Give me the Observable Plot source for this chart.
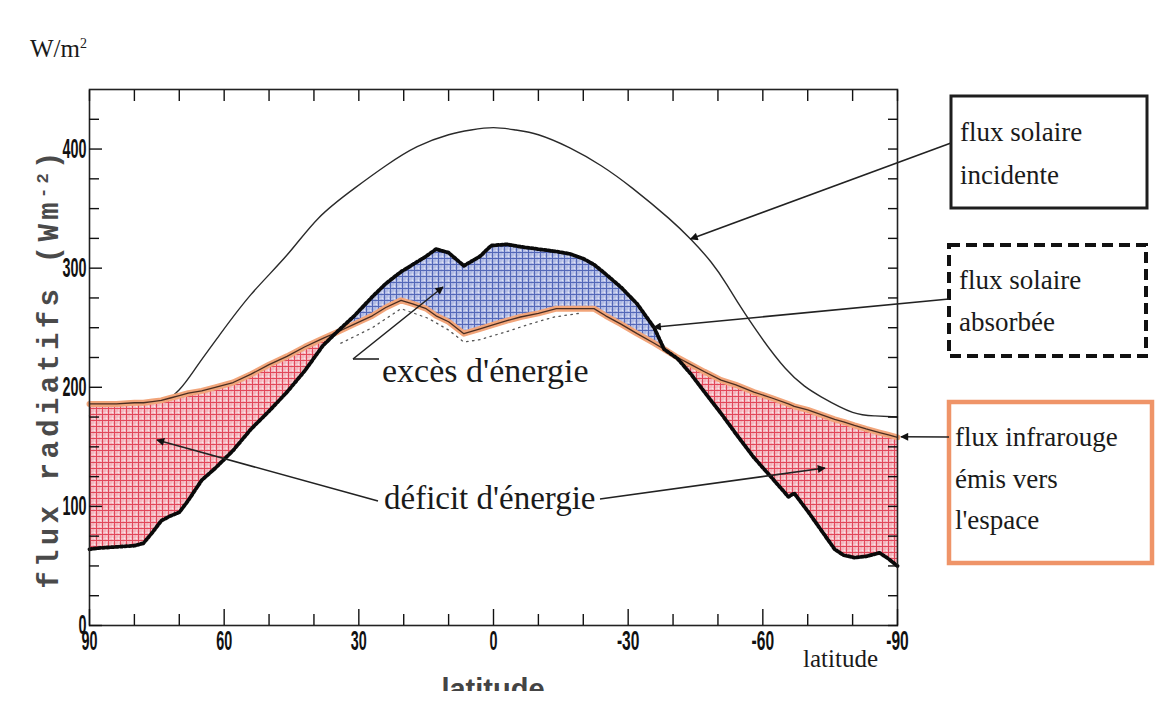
<!DOCTYPE html>
<html><head><meta charset="utf-8">
<script src="https://cdn.jsdelivr.net/npm/d3@7"></script>
<script src="https://cdn.jsdelivr.net/npm/@observablehq/plot@0.6"></script>
<style>
html,body{margin:0;padding:0;background:#fff;}
#chart{width:1164px;height:713px;overflow:hidden;position:relative;}
#chart svg{overflow:hidden;}
</style></head><body><div id="chart"></div>
<script>
// latitude grid shared by the absorbed solar and outgoing infrared curves
const lat = [90, 88, 84, 80, 78, 76, 74, 72, 70, 68, 65, 62, 58, 54, 50, 46, 42, 38, 35, 31, 27, 24, 20.6, 18, 15, 12.8, 10, 6.6, 3, 0.5, -3, -6, -10, -14, -17, -20, -22.4, -25, -28.4, -32, -35.8, -38, -41, -44, -47, -50.7, -54, -58, -62, -65.7, -67, -70, -73, -76, -78, -80.4, -83, -86, -88, -90];
const absorbed = [64, 65, 66, 67, 69, 78, 88, 92, 95, 105, 122, 132, 147, 165, 180, 196, 214, 235, 246, 260, 276, 287, 297, 303, 310, 316, 313, 302, 310, 319, 320, 318, 316, 314, 312, 308, 303, 295, 284, 270, 250, 232, 224, 211, 196, 178, 161, 141, 124, 108, 111, 96, 80, 64, 59, 57, 58, 61, 56, 50];
const infrared = [186, 186, 186, 187, 187, 188, 189, 191, 193, 195, 197, 200, 204, 211, 219, 226, 234, 241, 246, 253, 260, 267, 273, 270, 266, 260, 255, 245, 249, 252, 256, 259, 262, 266, 266, 266, 266, 260, 253, 245, 237, 232, 225, 219, 213, 206, 202, 196, 191, 186, 184, 181, 177, 173, 171, 168, 165, 162, 160, 158];
// incident solar flux
const incidentLat = [90, 84, 80, 76, 74, 70, 66, 61, 54, 46, 39, 31, 24, 17, 10, 5, 0, -5, -10, -17, -24, -31, -39, -44, -48.5, -52, -56, -65, -73, -80, -85, -90];
const incident = [176, 178, 181, 184, 186, 198, 218, 244, 278, 311, 342, 367, 386, 402, 412, 416, 418, 416, 412, 401, 386, 367, 342, 324, 305, 286, 262, 216, 192, 179, 176, 175];
// thin dotted curve in the tropics
const dottedLat = [34, 27, 20.6, 14.6, 10, 6.6, 3, -3.2, -8, -13.5, -19];
const dotted = [237, 250, 266, 258, 248, 238, 240, 247, 253, 259, 262];
// axes
const xTicks = [90, 60, 30, 0, -30, -60, -90];
const xMinor = [80, 70, 50, 40, 20, 10, -10, -20, -40, -50, -70, -80];
const yTicks = [0, 100, 200, 300, 400];
const yMinor = [25, 50, 75, 125, 150, 175, 225, 250, 275, 325, 350, 375, 425];

const rows = lat.map((l, i) => ({lat: l, asr: absorbed[i], olr: infrared[i]}));
const incRows = incidentLat.map((l, i) => ({lat: l, v: incident[i]}));
const dotRows = dottedLat.map((l, i) => ({lat: l, v: dotted[i]}));

const blank = () => "";
const plot = Plot.plot({
  width: 1164, height: 713,
  marginLeft: 89, marginRight: 267, marginTop: 89, marginBottom: 88,
  x: {domain: [90, -90]},
  y: {domain: [0, 450]},
  style: {fontFamily: "'Liberation Sans',Arial,sans-serif", color: "#111", background: "#fff"},
  marks: [
    Plot.line(incRows, {x: "lat", y: "v", stroke: "#2a2a2a", strokeWidth: 1.4, curve: "natural"}),
    Plot.areaY(rows, {x: "lat", y1: "olr", y2: d => Math.max(d.asr, d.olr), fill: "url(#hatchBlue)"}),
    Plot.areaY(rows, {x: "lat", y1: d => Math.min(d.asr, d.olr), y2: "olr", fill: "url(#hatchRed)"}),
    Plot.line(rows, {x: "lat", y: "olr", stroke: "#f2a57a", strokeWidth: 6}),
    Plot.line(rows, {x: "lat", y: "olr", stroke: "#4a2e22", strokeWidth: 1.3}),
    Plot.line(dotRows, {x: "lat", y: "v", stroke: "#555", strokeWidth: 1.3, strokeDasharray: "1.5,4.5"}),
    Plot.line(rows, {x: "lat", y: "asr", stroke: "#0a0a0a", strokeWidth: 3.8, strokeDasharray: "2.4,2"}),
    Plot.frame({stroke: "#222", strokeWidth: 1.6}),
    Plot.axisX(xTicks, {anchor: "bottom", tickSize: -16, tickPadding: 21, strokeWidth: 1.4, label: null, tickFormat: d => String(d)}),
    Plot.axisX(xMinor, {anchor: "bottom", tickSize: -11, tickFormat: blank, strokeWidth: 1.4, label: null}),
    Plot.axisX(xTicks.concat(xMinor), {anchor: "top", tickSize: -11, tickFormat: blank, strokeWidth: 1.4, label: null}),
    Plot.axisY(yTicks, {anchor: "left", tickSize: -13, tickPadding: 16, strokeWidth: 1.4, label: null, tickFormat: d => String(d)}),
    Plot.axisY(yMinor, {anchor: "left", tickSize: -10, tickFormat: blank, strokeWidth: 1.4, label: null}),
    Plot.axisY(yTicks.concat(yMinor), {anchor: "right", tickSize: -10, tickFormat: blank, strokeWidth: 1.4, label: null})
  ]
});
document.getElementById("chart").appendChild(plot);

const sx = plot.scale("x"), sy = plot.scale("y");
const svg = d3.select(plot);
// tick label typography (only the axis texts exist at this point): heavy, tall and condensed
svg.selectAll("text").each(function() {
  const s = this.textContent;
  if (!s) return;
  const w = Array.from(s).reduce((a, c) => a + (c === "-" ? 6.5 : 8), 0);
  d3.select(this).style("font-size", "27px").style("font-weight", "900")
    .style("font-family", "'Liberation Sans',Arial,sans-serif")
    .attr("textLength", w).attr("lengthAdjust", "spacingAndGlyphs");
});

const defs = svg.insert("defs", ":first-child");
function hatch(id, bg, line, light) {
  const p = defs.append("pattern").attr("id", id).attr("patternUnits", "userSpaceOnUse").attr("width", 6).attr("height", 6);
  p.append("rect").attr("width", 6).attr("height", 6).attr("fill", bg);
  p.append("rect").attr("x", 2.5).attr("y", 2.5).attr("width", 2.5).attr("height", 2.5).attr("fill", light);
  p.append("path").attr("d", "M0,0.5H6M0.5,0V6").attr("stroke", line).attr("stroke-width", 1.1);
  p.append("path").attr("d", "M0,3.2H6M3.2,0V6").attr("stroke", line).attr("stroke-width", 0.5).attr("opacity", 0.5);
}
hatch("hatchRed", "#f5c0c7", "#e2475a", "#fce8eb");
hatch("hatchBlue", "#b7c0e8", "#5468b8", "#e2e6f7");

const marker = defs.append("marker").attr("id", "ah").attr("viewBox", "0 0 10 10").attr("refX", 9).attr("refY", 5)
  .attr("markerWidth", 10).attr("markerHeight", 8).attr("markerUnits", "userSpaceOnUse").attr("orient", "auto");
marker.append("path").attr("d", "M0,0L10,5L0,10Z").attr("fill", "#111");

const g = svg.append("g");
const serif = "'Liberation Serif','Times New Roman',serif";
function txt(x, y, s, size, opts = {}) {
  return g.append("text").attr("x", x).attr("y", y).attr("font-family", opts.family || serif)
    .attr("font-size", size).attr("font-weight", opts.weight || "normal").attr("fill", opts.fill || "#1a1a1a")
    .attr("text-anchor", opts.anchor || "start").text(s);
}
// unit & axis labels
const wm = txt(30, 57, "W/m", 25);
wm.append("tspan").attr("dy", -9).attr("font-size", 14).text("2");
const yl = g.append("text").attr("transform", "translate(58,368) rotate(-90)").attr("text-anchor", "middle")
  .attr("font-family", "'Liberation Mono','DejaVu Sans Mono',monospace").attr("font-size", 29).attr("font-weight", "bold")
  .attr("letter-spacing", 4.3).attr("fill", "#4a4a4a")
  .text("flux radiatifs (Wm");
yl.append("tspan").attr("dy", -10).attr("font-size", 17).text("-2");
yl.append("tspan").attr("dy", 10).text(")");
txt(803, 667, "latitude", 25);
txt(sx.apply(0), 699, "latitude", 29, {family: "'Liberation Sans',Arial,sans-serif", weight: "bold", anchor: "middle", fill: "#444"});
g.append("rect").attr("x", 0).attr("y", 691).attr("width", 1164).attr("height", 30).attr("fill", "#fff");

// legend boxes
g.append("rect").attr("x", 951).attr("y", 96).attr("width", 196).attr("height", 112).attr("fill", "none").attr("stroke", "#1e1e1e").attr("stroke-width", 3);
txt(960, 141, "flux solaire", 27); txt(960, 184, "incidente", 27);
g.append("rect").attr("x", 949).attr("y", 245).attr("width", 197).attr("height", 111).attr("fill", "none").attr("stroke", "#111").attr("stroke-width", 4).attr("stroke-dasharray", "11,6");
txt(959, 289, "flux solaire", 27); txt(959, 331, "absorbée", 27);
g.append("rect").attr("x", 949).attr("y", 402).attr("width", 203).attr("height", 161).attr("fill", "none").attr("stroke", "#ef9468").attr("stroke-width", 4.5);
txt(955, 446, "flux infrarouge", 27); txt(955, 488, "émis vers", 27); txt(955, 529, "l'espace", 27);

// arrows, pointing onto the curves
function arrow(x1, y1, x2, y2) {
  g.append("line").attr("x1", x1).attr("y1", y1).attr("x2", x2).attr("y2", y2).attr("stroke", "#222").attr("stroke-width", 1.6).attr("marker-end", "url(#ah)");
}
const iInc = incidentLat.indexOf(-44);
arrow(951, 143, sx.apply(-44), sy.apply(incident[iInc]));
const iAsr = lat.indexOf(-35.8);
arrow(949, 299, sx.apply(-35.8), sy.apply(absorbed[iAsr]));
const iOlr = lat.indexOf(-90);
arrow(949, 437, sx.apply(-90) + 4, sy.apply(infrared[iOlr]));

// energy labels
txt(382, 382, "excès d'énergie", 34);
g.append("path").attr("d", "M379,359H353").attr("stroke", "#222").attr("stroke-width", 1.6).attr("fill", "none");
arrow(353, 359, 443, 287);
txt(384, 509, "déficit d'énergie", 33);
arrow(378, 501, 157, 440);
arrow(600, 499, 825, 468);
</script></body></html>
